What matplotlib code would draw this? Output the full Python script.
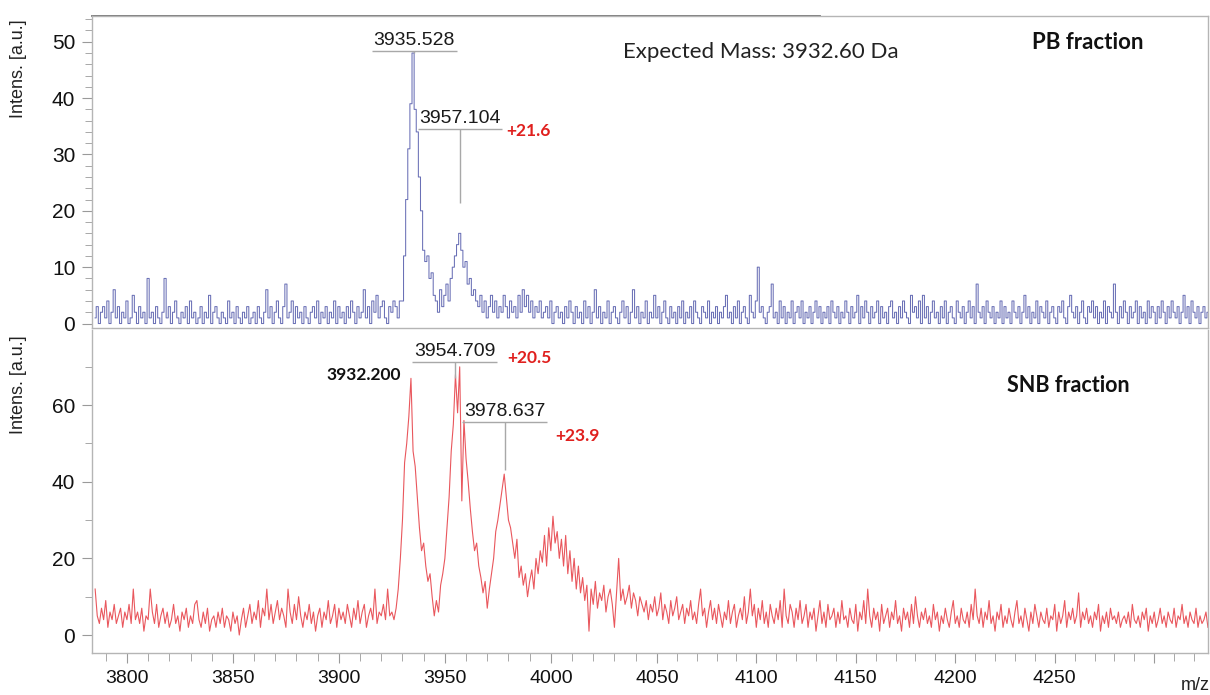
import numpy as np
import matplotlib
matplotlib.use("Agg")
import matplotlib.pyplot as plt
from matplotlib.ticker import MultipleLocator, FuncFormatter

# spectra sampled every 1 m/z, starting at 3785
MZ_START = 3785

pb_intens = [
    1, 3, 0, 2, 3, 1, 4, 0, 2, 6, 1, 3, 0, 2, 1, 4, 0, 1, 5, 2,          # 3785
    0, 3, 1, 2, 0, 8, 1, 2, 0, 3, 1, 0, 2, 8, 1, 3, 0, 2, 4, 1,          # 3805
    0, 2, 1, 3, 0, 4, 1, 2, 0, 1, 3, 0, 2, 1, 5, 0, 2, 3, 1, 0,          # 3825
    2, 1, 0, 4, 1, 2, 0, 3, 1, 0, 2, 1, 3, 0, 1, 2, 0, 3, 1, 0,          # 3845
    2, 6, 1, 3, 0, 2, 4, 1, 0, 3, 7, 1, 2, 4, 0, 3, 1, 2, 0, 3,          # 3865
    1, 0, 2, 3, 1, 4, 0, 2, 1, 3, 0, 2, 1, 4, 0, 3, 1, 2, 0, 3,          # 3885
    1, 4, 2, 0, 3, 1, 2, 6, 1, 3, 0, 4, 2, 5, 1, 3, 4, 1, 0, 3,          # 3905
    2, 4, 3, 1, 4, 4, 12, 22, 31, 39, 48, 38, 34, 26, 20, 13, 11, 12, 8, 9,  # 3925
    5, 4, 2, 6, 3, 5, 7, 4, 8, 10, 12, 14, 16, 13, 10, 11, 7, 8, 5, 6,   # 3945
    4, 3, 5, 2, 4, 1, 3, 5, 2, 4, 1, 3, 2, 5, 3, 1, 4, 2, 3, 1,          # 3965
    5, 2, 6, 3, 5, 2, 4, 1, 3, 2, 4, 1, 2, 3, 1, 4, 0, 2, 3, 1,          # 3985
    2, 0, 3, 1, 4, 2, 0, 3, 1, 2, 0, 4, 1, 3, 0, 2, 6, 1, 3, 0,          # 4005
    2, 1, 4, 0, 2, 3, 1, 0, 2, 4, 1, 3, 0, 2, 6, 1, 3, 0, 2, 1,          # 4025
    4, 0, 2, 1, 5, 1, 3, 0, 2, 4, 1, 0, 3, 1, 2, 0, 3, 1, 4, 0,          # 4045
    2, 1, 3, 0, 4, 2, 1, 0, 3, 2, 1, 4, 0, 2, 1, 3, 0, 2, 1, 3,          # 4065
    5, 1, 2, 0, 3, 1, 4, 0, 2, 3, 1, 0, 5, 2, 1, 4, 10, 2, 3, 1,         # 4085
    0, 2, 3, 7, 1, 2, 0, 4, 1, 3, 0, 2, 1, 4, 0, 2, 3, 1, 4, 0,          # 4105
    2, 1, 3, 0, 2, 4, 1, 3, 0, 2, 1, 3, 0, 4, 2, 1, 3, 0, 2, 1,          # 4125
    4, 2, 0, 3, 1, 2, 5, 0, 3, 1, 4, 2, 0, 3, 1, 2, 4, 0, 3, 1,          # 4145
    2, 0, 3, 4, 1, 2, 0, 3, 1, 4, 2, 1, 0, 5, 2, 3, 1, 4, 0, 5,          # 4165
    1, 3, 0, 2, 4, 1, 2, 0, 3, 1, 4, 0, 2, 3, 1, 0, 4, 2, 1, 3,          # 4185
    0, 2, 4, 1, 3, 0, 7, 2, 1, 3, 0, 4, 2, 1, 3, 0, 2, 1, 4, 0,          # 4205
    3, 1, 2, 0, 4, 2, 1, 3, 0, 2, 5, 1, 3, 0, 2, 1, 4, 0, 3, 2,          # 4225
    1, 4, 0, 2, 3, 1, 0, 3, 2, 4, 1, 0, 3, 5, 2, 1, 3, 0, 2, 4,          # 4245
    1, 0, 3, 2, 4, 1, 3, 0, 2, 1, 4, 0, 3, 2, 1, 7, 2, 0, 3, 1,          # 4265
    4, 2, 0, 3, 1, 2, 4, 0, 3, 1, 2, 0, 4, 1, 3, 2, 0, 3, 1, 4,          # 4285
    2, 0, 3, 1, 4, 2, 1, 3, 0, 2, 5, 1, 3, 0, 4, 2, 1, 3, 0, 2,          # 4305
    3, 1, 2,                                                              # 4325
]

snb_intens = [
    12, 5, 3, 7, 4, 9, 2, 6, 4, 8, 3, 5, 7, 2, 6, 4, 8, 3, 12, 4,        # 3785
    6, 3, 7, 1, 5, 4, 12, 6, 3, 8, 2, 5, 7, 3, 6, 2, 4, 8, 3, 5,         # 3805
    1, 6, 4, 7, 2, 5, 3, 8, 9, 4, 2, 6, 3, 7, 1, 4, 5, 2, 6, 3,          # 3825
    7, 2, 5, 4, 1, 6, 3, 5, 0, 4, 7, 2, 5, 8, 3, 6, 4, 9, 2, 7,          # 3845
    5, 12, 4, 8, 3, 6, 9, 4, 7, 5, 2, 12, 6, 3, 8, 4, 10, 5, 2, 6,       # 3865
    4, 8, 3, 6, 1, 5, 7, 2, 6, 4, 9, 3, 5, 8, 2, 7, 4, 6, 3, 8,          # 3885
    5, 2, 7, 4, 9, 3, 6, 8, 2, 5, 7, 4, 12, 3, 6, 5, 8, 4, 12, 5,        # 3905
    6, 4, 7, 12, 20, 30, 45, 50, 57, 67, 48, 44, 36, 28, 22, 24, 18, 14, 16, 10,  # 3925
    5, 9, 6, 13, 16, 20, 28, 36, 48, 55, 68, 58, 70, 35, 56, 46, 40, 33, 27, 22,  # 3945
    24, 18, 15, 11, 14, 7, 12, 16, 20, 27, 30, 34, 38, 42, 36, 30, 28, 24, 20, 25,  # 3965
    15, 18, 13, 16, 10, 14, 17, 12, 20, 16, 22, 19, 26, 18, 28, 22, 31, 24, 27, 20,  # 3985
    25, 18, 26, 16, 22, 14, 20, 12, 18, 11, 15, 9, 13, 1, 12, 8, 14, 7, 11, 9,  # 4005
    13, 6, 10, 12, 8, 2, 11, 20, 9, 12, 8, 10, 13, 7, 11, 9, 5, 10, 8, 6,  # 4025
    9, 4, 8, 6, 10, 5, 7, 11, 4, 8, 6, 3, 9, 5, 7, 10, 4, 6, 8, 3,       # 4045
    7, 5, 9, 4, 6, 3, 8, 12, 5, 7, 2, 6, 9, 4, 7, 3, 8, 5, 2, 6,         # 4065
    4, 9, 3, 6, 8, 2, 5, 7, 4, 10, 3, 6, 12, 5, 8, 2, 7, 4, 9, 3,        # 4085
    6, 2, 8, 5, 3, 7, 4, 9, 2, 12, 5, 3, 8, 6, 2, 7, 4, 9, 3, 5,         # 4105
    8, 2, 6, 4, 7, 1, 5, 9, 3, 6, 2, 8, 4, 5, 7, 2, 6, 3, 9, 4,          # 4125
    5, 2, 7, 4, 3, 8, 1, 6, 4, 9, 3, 12, 5, 2, 7, 4, 6, 1, 8, 3,         # 4145
    5, 7, 2, 6, 4, 9, 3, 5, 1, 7, 4, 6, 2, 8, 3, 10, 5, 2, 6, 4,         # 4165
    7, 3, 5, 2, 8, 4, 6, 1, 5, 3, 7, 4, 2, 6, 9, 3, 5, 2, 7, 4,          # 4185
    3, 6, 2, 8, 4, 12, 5, 3, 7, 2, 6, 4, 9, 3, 5, 1, 6, 4, 8, 2,         # 4205
    5, 3, 7, 4, 2, 6, 9, 3, 5, 2, 7, 4, 1, 6, 3, 8, 5, 2, 6, 4,          # 4225
    3, 7, 2, 5, 4, 8, 1, 6, 3, 5, 9, 2, 6, 4, 7, 3, 5, 11, 2, 6,         # 4245
    4, 7, 3, 5, 2, 6, 4, 8, 1, 5, 3, 6, 2, 7, 4, 5, 3, 6, 2, 4,          # 4265
    5, 3, 6, 2, 8, 4, 3, 5, 2, 6, 4, 7, 1, 5, 3, 6, 2, 4, 7, 3,          # 4285
    5, 2, 6, 4, 3, 7, 2, 5, 4, 8, 3, 5, 2, 6, 4, 3, 7, 2, 5, 3,          # 4305
    4, 6, 2,                                                              # 4325
]

# peak labels: (text, m/z, intensity at peak top)
pb_labels = [("3935.528", 3935.5, 48.0), ("3957.104", 3957.1, 21.3)]
snb_labels = [("3954.709", 3954.7, 67.0), ("3978.637", 3978.3, 43.0)]
pb_shift = ["+21.6"]
snb_shift = ["+20.5", "+23.9"]
snb_first_peak = "3932.200"
expected_mass = "Expected Mass: 3932.60 Da"

SANS = "Liberation Sans"
CALIBRI_LIKE = "Lato"
plt.rcParams["font.family"] = SANS


# the source figure is squeezed a bit above m/z 4050
def squeeze_fwd(v):
    return np.interp(v, [3000, 4050, 5000], [3000, 4050, 4050 + 950 * 0.9387])


def squeeze_inv(v):
    return np.interp(v, [3000, 4050, 4050 + 950 * 0.9387], [3000, 4050, 5000])


def mz_label(v, pos):
    # last major tick (4300) has no label in the source
    return "" if v > 4260 else f"{v:.0f}"


def style_axis(ax, ylim, major, minor, show_x):
    ax.set_xscale("function", functions=(squeeze_fwd, squeeze_inv))
    ax.set_xlim(3783.5, 4327)
    ax.set_ylim(*ylim)
    ax.xaxis.set_major_locator(MultipleLocator(50))
    ax.xaxis.set_minor_locator(MultipleLocator(10))
    ax.xaxis.set_major_formatter(FuncFormatter(mz_label))
    ax.yaxis.set_major_locator(MultipleLocator(major))
    ax.yaxis.set_minor_locator(MultipleLocator(minor))
    for side in ["left", "right", "bottom", "top"]:
        ax.spines[side].set_color("#b5b5b5")
        ax.spines[side].set_linewidth(1.0)
    ax.tick_params(axis="both", which="both", colors="#9a9a9a", labelcolor="#111111")
    ax.tick_params(axis="y", which="major", length=7, labelsize=15, pad=5)
    ax.tick_params(axis="y", which="minor", length=5)
    if show_x:
        ax.tick_params(axis="x", which="major", length=7, labelsize=14, pad=5)
        ax.tick_params(axis="x", which="minor", length=6)
    else:
        ax.tick_params(axis="x", which="both", bottom=False, labelbottom=False)
    ax.set_ylabel("Intens. [a.u.]", fontsize=13, color="#222222")


def draw_peak_labels(ax, labels, text_dy, line_dy):
    for text, mz, top in labels:
        y_line = top + line_dy
        ax.text(mz, y_line + text_dy, text, ha="center", va="center",
                fontsize=14, color="#1a1a1a")
        ax.hlines(y_line, mz - 20, mz + 20, color="#a8a8a8", lw=1.0)
        ax.vlines(mz, top, y_line, color="#a8a8a8", lw=1.0)


fig = plt.figure(figsize=(12.1, 6.95), dpi=100)
ax_top = fig.add_axes([0.076, 0.528, 0.9223, 0.449])
ax_bot = fig.add_axes([0.076, 0.0604, 0.9223, 0.4647])

mz_pb = MZ_START + np.arange(len(pb_intens))
mz_snb = MZ_START + np.arange(len(snb_intens))

# PB trace is quantised (step-like), SNB trace is a plain jagged line
ax_top.plot(mz_pb, pb_intens, color="#6a70b6", lw=0.75, drawstyle="steps-mid")
ax_bot.plot(mz_snb, snb_intens, color="#e9575d", lw=0.8)

style_axis(ax_top, (-0.8, 54.57), 10, 2, False)
style_axis(ax_bot, (-4.7, 79.6), 20, 10, True)
ax_bot.spines["top"].set_visible(False)
ax_top.yaxis.set_label_coords(-0.058, 0.83)
ax_bot.yaxis.set_label_coords(-0.058, 0.83)

# darker stretch of the top frame line
ax_top.plot([0, 0.652], [1, 1], transform=ax_top.transAxes, color="#6e6e6e",
            lw=1.3, clip_on=False)

# PB fraction
draw_peak_labels(ax_top, pb_labels[:1], 1.9, 0.4)
draw_peak_labels(ax_top, pb_labels[1:], 1.9, 13.2)
ax_top.text(3989.2, 34.1, pb_shift[0], ha="center", va="center", fontsize=12.5,
            family=CALIBRI_LIKE, fontweight="bold", color="#e0201e")
ax_top.text(4034, 48.2, expected_mass, ha="left", va="center", fontsize=16,
            family=CALIBRI_LIKE, color="#222222")
ax_top.text(4238.4, 49.8, "PB fraction", ha="left", va="center", fontsize=16,
            family=CALIBRI_LIKE, fontweight="bold", color="#111111")

# SNB fraction
draw_peak_labels(ax_bot, snb_labels[:1], 2.9, 4.2)
draw_peak_labels(ax_bot, snb_labels[1:], 2.8, 12.6)
ax_bot.text(3911.8, 67.8, snb_first_peak, ha="center", va="center", fontsize=12.5,
            family=CALIBRI_LIKE, fontweight="bold", color="#111111")
ax_bot.text(3990.1, 72.3, snb_shift[0], ha="center", va="center", fontsize=12.5,
            family=CALIBRI_LIKE, fontweight="bold", color="#e0201e")
ax_bot.text(4012.7, 51.9, snb_shift[1], ha="center", va="center", fontsize=12.5,
            family=CALIBRI_LIKE, fontweight="bold", color="#e0201e")
ax_bot.text(4225.9, 65.2, "SNB fraction", ha="left", va="center", fontsize=15.5,
            family=CALIBRI_LIKE, fontweight="bold", color="#111111")

fig.text(0.9876, 0.013, "m/z", ha="center", va="center", fontsize=13,
         color="#222222")

fig.savefig("out.png", dpi=100)
